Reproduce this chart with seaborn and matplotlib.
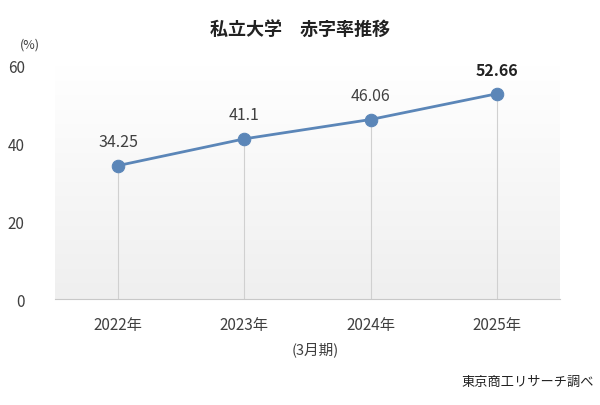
import numpy as np
import matplotlib
matplotlib.use("Agg")
import matplotlib.pyplot as plt
import seaborn as sns

years = ["2022年", "2023年", "2024年", "2025年"]
rates = [34.25, 41.1, 46.06, 52.66]
labels = ["34.25", "41.1", "46.06", "52.66"]

sns.set_style("white")
plt.rcParams['font.family'] = ['Noto Sans CJK JP', 'DejaVu Sans']

fig = plt.figure(figsize=(6, 4.06), dpi=100)
ax = fig.add_axes([0.092, 0.261, 0.841, 0.576])

# soft gray gradient behind the plot area
grad = np.linspace(0, 1, 100).reshape(-1, 1)
ax.imshow(grad, extent=[-0.5, 3.5, 0, 60], aspect='auto', origin='lower',
          cmap=matplotlib.colors.LinearSegmentedColormap.from_list('g', ['#efefef', '#ffffff']),
          zorder=0)

x = np.arange(len(years))
ax.vlines(x, 0, rates, color='#d0d0d0', lw=0.8, zorder=1)
sns.lineplot(x=x, y=rates, ax=ax, color='#5b86b8', lw=2, marker='o',
             markersize=9, markeredgecolor='#5b86b8', zorder=3)
for i, (v, t) in enumerate(zip(rates, labels)):
    ax.text(i, v + 4.0, t, ha='center', va='bottom', fontsize=11.5,
            color='#222222' if i == 3 else '#404040',
            fontweight='bold' if i == 3 else 'normal')

ax.set_xlim(-0.5, 3.5)
ax.set_ylim(0, 60)
ax.set_yticks([0, 20, 40, 60])
ax.set_xticks(x)
ax.set_xticklabels(years)
ax.tick_params(axis='both', labelsize=11, colors='#404040', length=0, pad=12)
ax.tick_params(axis='y', pad=22)
for s in ['top', 'right', 'left']:
    ax.spines[s].set_visible(False)
ax.spines['bottom'].set_color('#c8c8c8')

fig.text(0.5, 0.925, "私立大学　赤字率推移", ha='center', va='center',
         fontsize=13, fontweight='bold', color='#222222')
fig.text(0.05, 0.89, "(%)", ha='center', va='center', fontsize=9, color='#404040')
fig.text(0.525, 0.138, "(3月期)", ha='center', va='center', fontsize=10.5, color='#404040')
fig.text(0.99, 0.057, "東京商工リサーチ調べ", ha='right', va='center', fontsize=9.5, color='#222222')

fig.savefig("out.png", dpi=100)
